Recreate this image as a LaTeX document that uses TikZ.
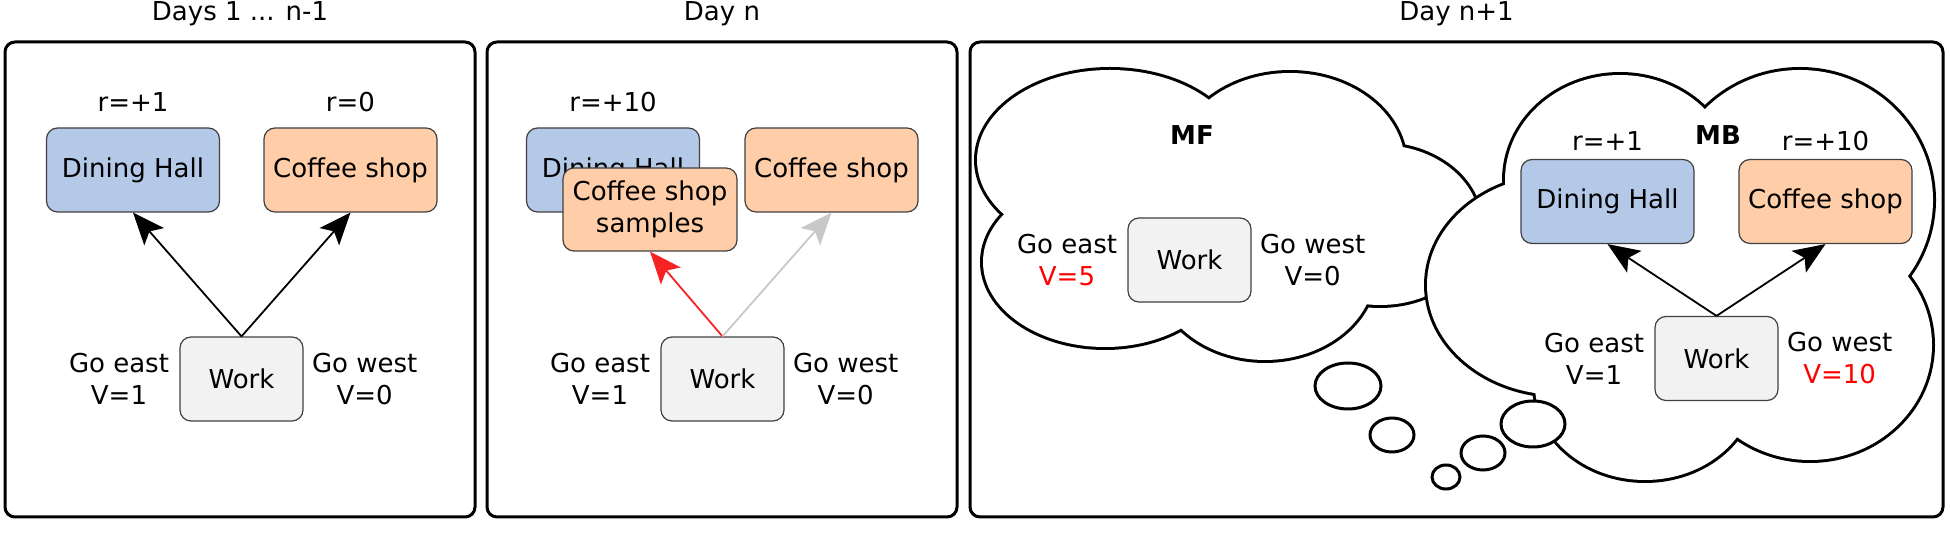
\documentclass[tikz,border=0pt]{standalone}
\usepackage{fontspec}
\setmainfont{DejaVu Sans}
\usetikzlibrary{arrows.meta,positioning}
\definecolor{hallblue}{RGB}{180,200,232}
\definecolor{shoporange}{RGB}{255,205,168}
\definecolor{workgray}{RGB}{242,242,242}
\definecolor{valred}{RGB}{255,0,0}
\definecolor{arrred}{RGB}{245,35,35}
\definecolor{arrgray}{RGB}{200,200,200}
\newcommand\boxfont{\fontsize{13}{16}\selectfont}
\tikzset{
  place/.style={draw=black!75, line width=0.6pt, rounded corners=5.5pt, align=center,
    inner sep=0pt, minimum width=86.5pt, minimum height=42pt, font=\boxfont},
  hall/.style={place, fill=hallblue},
  shop/.style={place, fill=shoporange},
  work/.style={place, fill=workgray, minimum width=61.5pt},
  panel/.style={draw, line width=1.5pt, rounded corners=5pt, inner sep=0pt, minimum height=237.5pt},
  lbl/.style={inner sep=0pt, align=center, font=\boxfont},
  title/.style={inner sep=0pt, anchor=base, font=\boxfont},
  move/.style={-{Stealth[length=16pt,width=13pt,inset=3.5pt]}, line width=0.9pt},
  cloudline/.style={draw, fill=white, line width=3pt},
  bubble/.style={draw, fill=white, line width=1.5pt},
}
\begin{document}
\begin{tikzpicture}[x=0.5pt,y=-0.5pt]
\useasboundingbox (0,0) rectangle (1950,533);
% the three days
\node[panel, minimum width=235pt] (days) at (240,279.5) {};
\node[panel, minimum width=235pt] (dayn) at (722,279.5) {};
\node[panel, minimum width=486.5pt] (daynext) at (1456.5,279.5) {};
\node[title] at ([yshift=10pt]days.north) {Days 1 ... n-1};
\node[title] at ([yshift=10pt]dayn.north) {Day n};
\node[title] at ([yshift=10pt]daynext.north) {Day n+1};

% days 1 ... n-1
\node[hall] (hall1) at (133,170) {Dining Hall};
\node[shop] (shop1) at (350.5,170) {Coffee shop};
\node[work] (work1) at (241.5,379) {Work};
\node[lbl, above=7.5pt of hall1] {r=+1};
\node[lbl, above=7.5pt of shop1] {r=0};
\node[lbl, left=5pt of work1] {Go east\\V=1};
\node[lbl, right=4pt of work1] {Go west\\V=0};
\draw[move] (work1.north) -- (hall1.south);
\draw[move] (work1.north) -- (shop1.south);

% day n
\node[hall] (hall2) at (613,170) {Dining Hall};
\node[shop] (shop2) at (831.5,170) {Coffee shop};
\node[shop, minimum width=87pt, minimum height=41.5pt] (samples) at (650,209.5) {Coffee shop\\samples};
\node[work] (work2) at (722.5,379) {Work};
\node[lbl, above=7.5pt of hall2] {r=+10};
\node[lbl, left=5pt of work2] {Go east\\V=1};
\node[lbl, right=4pt of work2] {Go west\\V=0};
\draw[move, arrred] (work2.north) -- (samples.south);
\draw[move, arrgray] (work2.north) -- (shop2.south);

% day n+1: model-free cloud, then model-based cloud on top
\foreach \x/\y/\rx/\ry in {1110/160/133/90, 1290/165/115/92, 1380/225/100/80, 1265/270/110/90, 1105/262/122/85}
  \path[cloudline] (\x,\y) ellipse [x radius=\rx, y radius=\ry];
\foreach \x/\y/\rx/\ry in {1110/160/133/90, 1290/165/115/92, 1380/225/100/80, 1265/270/110/90, 1105/262/122/85, 1200/215/120/70}
  \fill[white] (\x,\y) ellipse [x radius=\rx, y radius=\ry];
\foreach \x/\y/\rx/\ry in {1620/180/115/105, 1800/200/133/130, 1810/345/122/115, 1645/385/110/95, 1560/285/133/110}
  \path[cloudline] (\x,\y) ellipse [x radius=\rx, y radius=\ry];
\foreach \x/\y/\rx/\ry in {1620/180/115/105, 1800/200/133/130, 1810/345/122/115, 1645/385/110/95, 1560/285/133/110, 1700/280/100/90}
  \fill[white] (\x,\y) ellipse [x radius=\rx, y radius=\ry];
\foreach \x/\y/\rx/\ry in {1348/386/33/23, 1392/435/22/17, 1446/477/14/12, 1483/453/22/17, 1533/424/32/23}
  \path[bubble] (\x,\y) ellipse [x radius=\rx, y radius=\ry];

\node[lbl, font=\boxfont\bfseries] (mf) at (1192,135) {MF};
\node[work] (work3) at (1189.5,260) {Work};
\node[lbl, left=5pt of work3] {Go east\\\textcolor{valred}{V=5}};
\node[lbl, right=4pt of work3] {Go west\\V=0};

\node[lbl, font=\boxfont\bfseries] (mb) at (1718,135) {MB};
\node[hall] (hall4) at (1607.5,201.5) {Dining Hall};
\node[shop] (shop4) at (1825.5,201.5) {Coffee shop};
\node[work] (work4) at (1716.5,358.5) {Work};
\node[lbl, above=4pt of hall4] {r=+1};
\node[lbl, above=4pt of shop4] {r=+10};
\node[lbl, left=5pt of work4] {Go east\\V=1};
\node[lbl, right=4pt of work4] {Go west\\\textcolor{valred}{V=10}};
\draw[move] (work4.north) -- (hall4.south);
\draw[move] (work4.north) -- (shop4.south);
\end{tikzpicture}
\end{document}
